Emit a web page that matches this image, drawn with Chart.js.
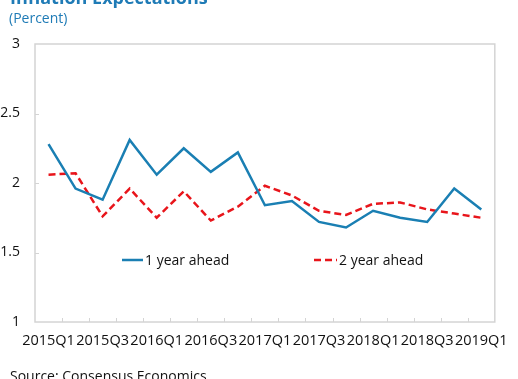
<!DOCTYPE html>
<html lang="en">
<head>
    <meta charset="UTF-8">
    <title>Inflation Expectations</title>
    <script src="https://cdn.jsdelivr.net/npm/chart.js"></script>
    <style>
        body {
            margin: 0;
            background: #fff;
        }
        canvas {
            display: block;
        }
    </style>
</head>
<body>
    <canvas id="inflChart" width="518" height="379"></canvas>

    <script>
        // quarters 2015Q1 .. 2019Q1
        const quarters = ['2015Q1', '2015Q2', '2015Q3', '2015Q4',
                          '2016Q1', '2016Q2', '2016Q3', '2016Q4',
                          '2017Q1', '2017Q2', '2017Q3', '2017Q4',
                          '2018Q1', '2018Q2', '2018Q3', '2018Q4',
                          '2019Q1'];
        const oneYearAhead = [2.28, 1.96, 1.88, 2.31, 2.06, 2.25, 2.08, 2.22,
                              1.84, 1.87, 1.72, 1.68, 1.80, 1.75, 1.72, 1.96, 1.81];
        const twoYearAhead = [2.06, 2.07, 1.76, 1.96, 1.75, 1.94, 1.73, 1.83,
                              1.98, 1.91, 1.80, 1.77, 1.85, 1.86, 1.81, 1.78, 1.75];
        const yTicks = [1, 1.5, 2, 2.5, 3];

        const blue = '#1a7fb3';
        const red = '#e8151b';
        const axisGray = '#d4d4d4';
        const fontFam = "'Open Sans', sans-serif";

        // title, source, frame, inside ticks and the legend
        const decor = {
            id: 'decor',
            afterDraw(chart) {
                const ctx = chart.ctx;
                const area = chart.chartArea;
                const xs = chart.scales.x;
                const ys = chart.scales.y;
                ctx.save();

                ctx.fillStyle = '#1f7bb6';
                ctx.font = 'bold 18px ' + fontFam;
                ctx.textBaseline = 'alphabetic';
                ctx.fillText('Inflation Expectations', 10, 4);
                ctx.font = '14px ' + fontFam;
                ctx.fillText('(Percent)', 9, 23);

                ctx.fillStyle = '#111';
                ctx.font = '14px ' + fontFam;
                ctx.fillText('Source: Consensus Economics.', 10, 381);

                ctx.strokeStyle = axisGray;
                ctx.lineWidth = 1.5;
                ctx.strokeRect(area.left, area.top, area.right - area.left, area.bottom - area.top);

                ctx.lineWidth = 1;
                ctx.beginPath();
                for (let i = 1; i < quarters.length; i++) {
                    const px = Math.round(xs.getPixelForValue(i - 0.5)) + 0.5;
                    ctx.moveTo(px, area.bottom);
                    ctx.lineTo(px, area.bottom - 4);
                }
                yTicks.slice(1, -1).forEach(v => {
                    const py = Math.round(ys.getPixelForValue(v)) + 0.5;
                    ctx.moveTo(area.left, py);
                    ctx.lineTo(area.left + 4, py);
                });
                ctx.stroke();

                // legend inside the plot
                const items = [
                    { ds: chart.data.datasets[0], x: 122, w: 21 },
                    { ds: chart.data.datasets[1], x: 314, w: 23 }
                ];
                const ly = 260;
                items.forEach(it => {
                    ctx.strokeStyle = it.ds.borderColor;
                    ctx.lineWidth = it.ds.borderWidth;
                    ctx.setLineDash(it.ds.borderDash || []);
                    ctx.beginPath();
                    ctx.moveTo(it.x, ly);
                    ctx.lineTo(it.x + it.w, ly);
                    ctx.stroke();
                    ctx.setLineDash([]);
                    ctx.fillStyle = '#111';
                    ctx.font = '14px ' + fontFam;
                    ctx.textBaseline = 'middle';
                    ctx.fillText(it.ds.label, it.x + it.w + 2, ly + 1);
                });
                ctx.restore();
            }
        };

        new Chart(document.getElementById('inflChart'), {
            type: 'line',
            data: {
                labels: quarters,
                datasets: [{
                    label: '1 year ahead',
                    data: oneYearAhead,
                    borderColor: blue,
                    borderWidth: 2.5,
                    pointRadius: 0,
                    tension: 0
                }, {
                    label: '2 year ahead',
                    data: twoYearAhead,
                    borderColor: red,
                    borderWidth: 2.5,
                    borderDash: [7, 4],
                    pointRadius: 0,
                    tension: 0
                }]
            },
            options: {
                responsive: false,
                animation: false,
                layout: { padding: { top: 44, right: 12, left: 0, bottom: 0 } },
                plugins: {
                    legend: { display: false },
                    tooltip: { enabled: false }
                },
                scales: {
                    x: {
                        offset: true,
                        grid: { display: false, drawTicks: false, offset: true },
                        border: { display: false },
                        afterFit(scale) { scale.height = 57; },
                        ticks: {
                            autoSkip: false,
                            maxRotation: 0,
                            padding: 10,
                            color: '#111',
                            font: { family: fontFam, size: 14.5 },
                            callback: (v, i) => i % 2 === 0 ? quarters[i] : ''
                        }
                    },
                    y: {
                        min: 1,
                        max: 3,
                        afterBuildTicks(scale) {
                            scale.ticks = yTicks.map(v => ({ value: v }));
                        },
                        afterFit(scale) { scale.width = 35; },
                        grid: { display: false, drawTicks: false },
                        border: { display: false },
                        ticks: {
                            padding: 15,
                            color: '#111',
                            font: { family: fontFam, size: 14 },
                            callback: v => String(v)
                        }
                    }
                }
            },
            plugins: [decor]
        });
    </script>
</body>
</html>
